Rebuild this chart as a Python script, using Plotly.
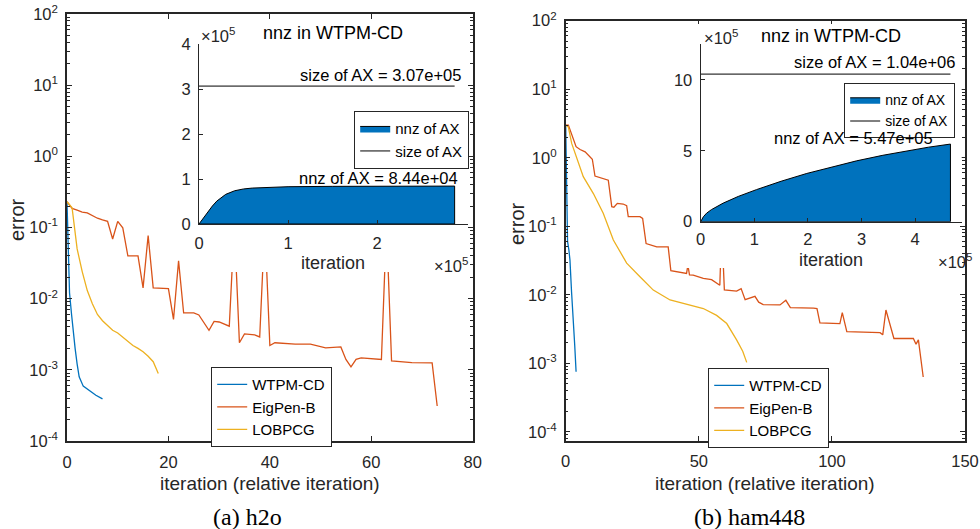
import plotly.graph_objects as go

W, H = 980, 529

# ---------------- data : (a) h2o ----------------
h2o_wtpm_x = [0, 0.25, 0.5, 0.9, 1.3, 1.6, 2.0, 2.4, 3.2, 4.5, 5.7, 7.0]
h2o_wtpm_y = [0.23, 0.03, 0.012, 0.006, 0.003, 0.002, 0.0012, 0.0008, 0.00059, 0.0005, 0.00044, 0.00039]

h2o_eig_x = [0, 1, 2, 3, 4, 5, 6, 7, 8, 9, 10, 11, 12, 14, 15, 16, 17, 20, 21, 22, 23, 25, 26, 28, 29, 30,
             32, 33, 34, 35, 37, 38, 39, 40, 41, 45, 48, 51, 54, 55, 56, 57, 58, 62, 63, 64, 68, 72, 73]
h2o_eig_y = [0.23, 0.185, 0.175, 0.165, 0.16, 0.145, 0.135, 0.128, 0.122, 0.069, 0.122, 0.099, 0.040, 0.040,
             0.0142, 0.077, 0.0142, 0.0138, 0.0051, 0.034, 0.0063, 0.0063, 0.0059, 0.0036, 0.0048, 0.0047,
             0.0041, 0.11, 0.0024, 0.0032, 0.0031, 0.0029, 0.11, 0.0022, 0.0024, 0.0023, 0.0023, 0.00204,
             0.0021, 0.0014, 0.0011, 0.0014, 0.00147, 0.0014, 0.11, 0.00133, 0.00126, 0.00125, 0.00031]

h2o_lob_x = [0, 1, 2, 3, 4, 5, 6, 7, 8, 9, 10, 11, 12, 13, 14, 15, 16, 17, 18]
h2o_lob_y = [0.23, 0.19, 0.05, 0.024, 0.013, 0.0085, 0.006, 0.0049, 0.0042, 0.0036, 0.0033, 0.0029,
             0.0025, 0.0022, 0.002, 0.0018, 0.00155, 0.0013, 0.00089]

h2o_nnz_x = [0, 0.05e5, 0.1e5, 0.15e5, 0.2e5, 0.3e5, 0.4e5, 0.5e5, 0.6e5, 0.8e5, 1.0e5, 1.5e5, 2.0e5, 2.5e5, 2.87e5]
h2o_nnz_y = [0, 0.14e5, 0.27e5, 0.4e5, 0.51e5, 0.66e5, 0.74e5, 0.78e5, 0.80e5, 0.82e5, 0.83e5, 0.838e5,
             0.841e5, 0.843e5, 0.844e5]
h2o_size_ax = 3.07e5

# ---------------- data : (b) ham448 ----------------
ham_wtpm_x = [0, 0.15, 0.4, 0.7, 1.2, 1.6, 2.2, 2.85, 3.4, 3.9]
ham_wtpm_y = [3.0, 1.0, 0.17, 0.06, 0.045, 0.032, 0.011, 0.0048, 0.0018, 0.00075]

ham_eig_x = [0, 1, 3.9, 5.4, 7.3, 9.1, 10.0, 11.0, 12.3, 14.1, 16.0, 17.3, 18.1, 19.4, 21.6, 22.9, 23.5, 27.9,
             28.9, 30.2, 34.2, 38.5, 39.5, 45.4, 45.9, 46.5, 47.9, 51.7, 54.8, 57.9, 58.6, 59.6, 64.2, 65.9,
             67.4, 71.1, 72.5, 74.2, 80.5, 82.7, 84.4, 93.1, 94.4, 95.5, 103.0, 103.9, 105.6, 118.1, 119.1,
             120.3, 123.3, 130.6, 131.6, 132.5, 134.3]
ham_eig_y = [3.0, 3.0, 1.45, 1.32, 1.22, 1.04, 0.95, 0.54, 0.52, 0.50, 0.47, 0.193, 0.189, 0.216, 0.211, 0.20,
             0.138, 0.138, 0.130, 0.056, 0.050, 0.050, 0.0225, 0.0205, 0.027, 0.0195, 0.0194, 0.0174, 0.0166,
             0.0138, 0.1, 0.0118, 0.0113, 0.0123, 0.0085, 0.0095, 0.0078, 0.0072, 0.0071, 0.0083, 0.0065,
             0.0064, 0.0063, 0.0039, 0.0038, 0.0055, 0.0029, 0.0028, 0.0026, 0.006, 0.0023, 0.0023, 0.0019,
             0.0022, 0.00063]

ham_lob_x = [0, 1, 2.25, 4.1, 6.6, 10.4, 14.1, 17.9, 22.9, 27.9, 32.9, 39.2, 45.5, 51.7, 56.7, 60.5, 64.2, 66.5, 68.0]
ham_lob_y = [3.0, 2.8, 1.62, 1.03, 0.53, 0.30, 0.155, 0.063, 0.029, 0.0183, 0.0117, 0.0084, 0.0073, 0.0063,
             0.005, 0.0038, 0.0022, 0.0015, 0.00103]

ham_nnz_x = [0, 0.05e5, 0.11e5, 0.2e5, 0.42e5, 0.7e5, 1.04e5, 1.5e5, 1.98e5, 2.5e5, 2.91e5, 3.4e5, 3.84e5, 4.25e5, 4.66e5]
ham_nnz_y = [0, 0.35e5, 0.6e5, 0.85e5, 1.31e5, 1.78e5, 2.26e5, 2.85e5, 3.4e5, 3.9e5, 4.29e5, 4.68e5, 5.0e5,
             5.25e5, 5.47e5]
ham_size_ax = 1.04e6

series_names = ["WTPM-CD", "EigPen-B", "LOBPCG"]
colors = ["#0072BD", "#D95319", "#EDB120"]

main_xticks_h2o = [0, 20, 40, 60, 80]
main_xticks_ham = [0, 50, 100, 150]
log_ticks = [1e-4, 1e-3, 1e-2, 1e-1, 1e0, 1e1, 1e2]
log_ticktext = ["10<sup>-4</sup>", "10<sup>-3</sup>", "10<sup>-2</sup>", "10<sup>-1</sup>",
                "10<sup>0</sup>", "10<sup>1</sup>", "10<sup>2</sup>"]
inset_xticks_h2o = [0, 1, 2]
inset_yticks_h2o = [0, 1, 2, 3, 4]
inset_xticks_ham = [0, 1, 2, 3, 4]
inset_yticks_ham = [0, 5, 10]

# ---------------- layout helpers ----------------
FONT = "Liberation Sans, Arial, Helvetica, sans-serif"
AXC = "#262626"


def fx(px):
    return px / W


def fy(py):
    return 1 - py / H


fig = go.Figure()

# main traces (a)
for name, c, xs, ys in zip(series_names, colors, [h2o_wtpm_x, h2o_eig_x, h2o_lob_x],
                           [h2o_wtpm_y, h2o_eig_y, h2o_lob_y]):
    fig.add_trace(go.Scatter(x=xs, y=ys, mode="lines", name=name, line=dict(color=c, width=1.3),
                             xaxis="x", yaxis="y", legend="legend"))

# cover panel (a) -- empty white axes behind inset
fig.add_trace(go.Scatter(x=[0], y=[0], mode="markers", marker=dict(opacity=0), showlegend=False,
                         hoverinfo="skip", xaxis="x2", yaxis="y2"))

# inset (a)
fig.add_trace(go.Scatter(x=h2o_nnz_x + [h2o_nnz_x[-1], 0], y=h2o_nnz_y + [0, 0], mode="lines",
                         fill="toself", fillcolor="#0072BD", line=dict(color="black", width=1),
                         name="nnz of AX", xaxis="x3", yaxis="y3", legend="legend3"))
fig.add_trace(go.Scatter(x=[0, h2o_nnz_x[-1]], y=[h2o_size_ax, h2o_size_ax], mode="lines",
                         line=dict(color="black", width=1), name="size of AX",
                         xaxis="x3", yaxis="y3", legend="legend3"))

# main traces (b)
for name, c, xs, ys in zip(series_names, colors, [ham_wtpm_x, ham_eig_x, ham_lob_x],
                           [ham_wtpm_y, ham_eig_y, ham_lob_y]):
    fig.add_trace(go.Scatter(x=xs, y=ys, mode="lines", name=name, line=dict(color=c, width=1.3),
                             xaxis="x4", yaxis="y4", legend="legend2"))

fig.add_trace(go.Scatter(x=[0], y=[0], mode="markers", marker=dict(opacity=0), showlegend=False,
                         hoverinfo="skip", xaxis="x5", yaxis="y5"))

fig.add_trace(go.Scatter(x=ham_nnz_x + [ham_nnz_x[-1], 0], y=ham_nnz_y + [0, 0], mode="lines",
                         fill="toself", fillcolor="#0072BD", line=dict(color="black", width=1),
                         name="nnz of AX", xaxis="x6", yaxis="y6", legend="legend4"))
fig.add_trace(go.Scatter(x=[0, ham_nnz_x[-1]], y=[ham_size_ax, ham_size_ax], mode="lines",
                         line=dict(color="black", width=1), name="size of AX",
                         xaxis="x6", yaxis="y6", legend="legend4"))

minor_vals = [k * 10.0 ** e for e in range(-5, 2) for k in range(2, 10)]

tickfont = dict(family=FONT, size=16.5, color=AXC)


def main_x(domain, rng, tv, anchor):
    return dict(domain=domain, range=rng, tickvals=tv, ticktext=[str(v) for v in tv], ticks="inside",
                ticklen=5, tickwidth=1, tickcolor=AXC, showline=True, linecolor=AXC, linewidth=1.5,
                mirror="ticks", showgrid=False, zeroline=False, tickfont=tickfont, anchor=anchor,
                ticklabelstandoff=5, automargin=False)


def main_y(domain, rng, anchor):
    return dict(domain=domain, type="log", range=rng, tickvals=log_ticks, ticktext=log_ticktext,
                ticks="inside", ticklen=5, tickwidth=1, tickcolor=AXC, showline=True, linecolor=AXC,
                linewidth=1.5, mirror="ticks", showgrid=False, zeroline=False, tickfont=tickfont,
                anchor=anchor, ticklabelstandoff=4, automargin=False,
                minor=dict(tickmode="array", tickvals=minor_vals, ticks="inside", ticklen=3,
                           tickcolor=AXC, tickwidth=1, showgrid=False))


def inset_x(domain, rng, tv, anchor, standoff=5):
    return dict(domain=domain, range=rng, tickvals=[v * 1e5 for v in tv], ticktext=[str(v) for v in tv],
                ticks="inside", ticklen=4, tickcolor=AXC, showline=True, linecolor=AXC, linewidth=1.2,
                showgrid=False, zeroline=False, tickfont=tickfont, anchor=anchor, ticklabelstandoff=standoff,
                automargin=False)


def inset_y(domain, rng, tv, anchor):
    return dict(domain=domain, range=rng, tickvals=[v * 1e5 for v in tv], ticktext=[str(v) for v in tv],
                ticks="inside", ticklen=4, tickcolor=AXC, showline=True, linecolor=AXC, linewidth=1.2,
                showgrid=False, zeroline=False, tickfont=tickfont, anchor=anchor, ticklabelstandoff=4,
                automargin=False)


def hidden(domain, anchor):
    return dict(domain=domain, visible=False, range=[0, 1], anchor=anchor, showgrid=False, zeroline=False,
                automargin=False)


legend_common = dict(bgcolor="white", bordercolor="#262626", borderwidth=1.2,
                     font=dict(family=FONT, size=15, color="black"), xanchor="left", yanchor="top",
                     tracegroupgap=0, itemwidth=30)

fig.update_layout(
    template="none",
    width=W, height=H, margin=dict(l=0, r=0, t=0, b=0, pad=0, autoexpand=False),
    paper_bgcolor="white", plot_bgcolor="white", hovermode=False,
    xaxis=main_x([fx(67), fx(472.7)], [0, 80], main_xticks_h2o, "y"),
    yaxis=main_y([fy(441), fy(14)], [-4, 2], "x"),
    xaxis2=hidden([fx(185), fx(466)], "y2"),
    yaxis2=hidden([fy(272), fy(22)], "x2"),
    xaxis3=inset_x([fx(199), fx(468)], [0, 3.02e5], inset_xticks_h2o, "y3", 4),
    yaxis3=inset_y([fy(224), fy(44.3)], [0, 4e5], inset_yticks_h2o, "x3"),
    xaxis4=main_x([fx(565.7), fx(965)], [0, 150], main_xticks_ham, "y4"),
    yaxis4=main_y([fy(440.7), fy(20.7)], [-4.13, 2], "x4"),
    xaxis5=hidden([fx(676), fx(959)], "y5"),
    yaxis5=hidden([fy(268), fy(24)], "x5"),
    xaxis6=inset_x([fx(700.7), fx(961.7)], [0, 4.87e5], inset_xticks_ham, "y6", 2),
    yaxis6=inset_y([fy(221.7), fy(44.3)], [0, 12.5e5], inset_yticks_ham, "x6"),
    legend=dict(legend_common, x=fx(211), y=fy(367)),
    legend2=dict(legend_common, x=fx(708), y=fy(368)),
    legend3=dict(legend_common, x=fx(354), y=fy(111)),
    legend4=dict(legend_common, x=fx(844), y=fy(83), font=dict(family=FONT, size=14, color="black")),
)


def ann(text, px, py, size=16, xanchor="center", angle=0, family=FONT, color="black"):
    fig.add_annotation(text=text, x=fx(px), y=fy(py), xref="paper", yref="paper", showarrow=False,
                       xanchor=xanchor, yanchor="middle", textangle=angle,
                       font=dict(family=family, size=size, color=color))


# axis titles
ann("error", 17, 220, size=20, angle=-90, color=AXC)
ann("error", 517, 224, size=20, angle=-90, color=AXC)
ann("iteration (relative iteration)", 270, 483, size=19, color=AXC)
ann("iteration (relative iteration)", 765, 483, size=19, color=AXC)
# captions
ann("(a) h2o", 247, 517, size=24, family="Liberation Serif, Times New Roman, serif")
ann("(b) ham448", 749, 517, size=24, family="Liberation Serif, Times New Roman, serif")
# insets text
ann("nnz in WTPM-CD", 333, 33, size=18)
ann("nnz in WTPM-CD", 831, 36, size=18)
ann("×10<sup>5</sup>", 199, 35, size=16.5, xanchor="left", color=AXC)
ann("×10<sup>5</sup>", 702, 37, size=16.5, xanchor="left", color=AXC)
ann("iteration", 333, 263, size=18, color=AXC)
ann("iteration", 831, 260, size=18, color=AXC)
ann("×10<sup>5</sup>", 470, 265, size=16.5, xanchor="right", color=AXC)
ann("×10<sup>5</sup>", 974, 261, size=16.5, xanchor="right", color=AXC)
ann(f"size of AX = {h2o_size_ax:.2e}", 463, 75, size=16.5, xanchor="right")
ann(f"nnz of AX = {h2o_nnz_y[-1]:.2e}", 460, 178, size=16.5, xanchor="right")
ann(f"size of AX = {ham_size_ax:.2e}", 957, 62, size=16.5, xanchor="right")
ann(f"nnz of AX = {ham_nnz_y[-1]:.2e}", 935, 138, size=16.5, xanchor="right")

fig.write_html("out.html", config={"displayModeBar": False},
               post_script="document.body.style.margin='0';document.body.style.padding='0';")
